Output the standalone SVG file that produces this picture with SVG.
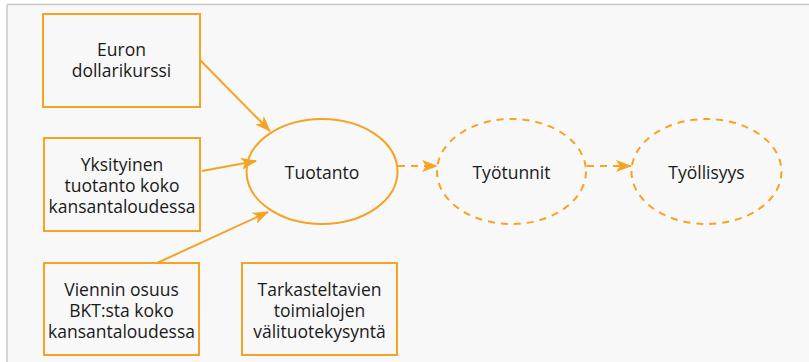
<svg xmlns="http://www.w3.org/2000/svg" width="809" height="362" viewBox="0 0 809 362">
<defs>
<style>
.box{fill:none;stroke:#f4a322;stroke-width:2}
.ell{fill:none;stroke:#f4a322;stroke-width:2}
.dash{stroke-dasharray:7 6}
.con{fill:none;stroke:#f4a322;stroke-width:2}
.t{font-family:"Open Sans","Noto Sans",sans-serif;font-size:17.5px;fill:#1a1a1a;text-anchor:middle}
</style>
<marker id="ah" viewBox="0 0 16 12" refX="15" refY="6" markerWidth="16" markerHeight="12" markerUnits="userSpaceOnUse" orient="auto">
<path d="M0,0 L16,6 L0,12 L4,6 Z" fill="#f4a322"/>
</marker>
</defs>
<rect x="0" y="0" width="809" height="362" fill="#ffffff"/>
<rect x="7" y="4.5" width="802" height="358" fill="#f8f8f8"/>
<line x1="7" y1="4.5" x2="809" y2="4.5" stroke="#c8c8c8" stroke-width="1.5"/>
<line x1="7" y1="4.5" x2="7" y2="362" stroke="#c8c8c8" stroke-width="1.5"/>
<g id="connectors">
<line class="con" x1="200" y1="60" x2="270" y2="131" marker-end="url(#ah)"/>
<line class="con" x1="202" y1="171" x2="256" y2="161" marker-end="url(#ah)"/>
<line class="con" x1="157" y1="263" x2="268" y2="212" marker-end="url(#ah)"/>
<line class="con dash" x1="398" y1="166" x2="437" y2="166" marker-end="url(#ah)"/>
<line class="con dash" x1="587" y1="166" x2="631" y2="166" marker-end="url(#ah)"/>
</g>
<g id="euron">
<rect class="box" x="43" y="14" width="157" height="93"/>
<text class="t" x="121.5" y="56">Euron</text>
<text class="t" x="121.5" y="77">dollarikurssi</text>
</g>
<g id="yksityinen">
<rect class="box" x="44" y="138" width="156" height="93"/>
<text class="t" x="122" y="171">Yksityinen</text>
<text class="t" x="122" y="192">tuotanto koko</text>
<text class="t" x="122" y="213">kansantaloudessa</text>
</g>
<g id="viennin">
<rect class="box" x="44" y="263" width="155" height="92"/>
<text class="t" x="121.5" y="296">Viennin osuus</text>
<text class="t" x="121.5" y="317">BKT:sta koko</text>
<text class="t" x="121.5" y="338">kansantaloudessa</text>
</g>
<g id="tarkasteltavien">
<rect class="box" x="242" y="263" width="155" height="92"/>
<text class="t" x="319.5" y="296">Tarkasteltavien</text>
<text class="t" x="319.5" y="317">toimialojen</text>
<text class="t" x="319.5" y="338">välituotekysyntä</text>
</g>
<g id="tuotanto">
<ellipse class="ell" cx="322" cy="171.5" rx="75.5" ry="52.5"/>
<text class="t" x="322" y="179">Tuotanto</text>
</g>
<g id="tyotunnit">
<ellipse class="ell dash" cx="511.5" cy="171.5" rx="74.5" ry="52.5"/>
<text class="t" x="511.5" y="179">Työtunnit</text>
</g>
<g id="tyollisyys">
<ellipse class="ell dash" cx="706.5" cy="171.5" rx="75" ry="52.5"/>
<text class="t" x="706.5" y="179">Työllisyys</text>
</g>
</svg>
